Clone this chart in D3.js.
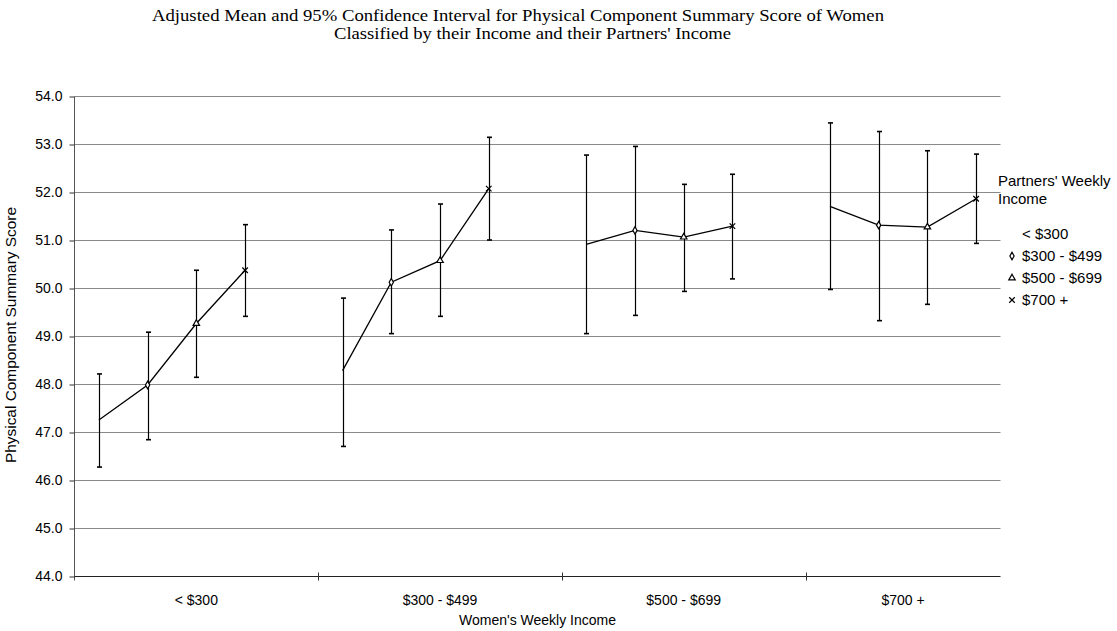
<!DOCTYPE html>
<html>
<head>
<meta charset="utf-8">
<script src="https://cdn.jsdelivr.net/npm/d3@7"></script>
<style>
  html, body { margin: 0; padding: 0; background: #fff; }
  svg { display: block; }
  text { font-family: "Liberation Sans", Arial, sans-serif; fill: #000; }
  text.serif { font-family: "Liberation Serif", "Times New Roman", serif; }
</style>
</head>
<body>
<svg id="chart" width="1117" height="631"></svg>
<script>
// ---------------- data ----------------
const titleLines = [
  "Adjusted Mean and 95% Confidence Interval for Physical Component Summary Score of Women",
  "Classified by their Income and their Partners' Income"
];
const yAxisTitle = "Physical Component Summary Score";
const xAxisTitle = "Women's Weekly Income";
const legendTitle = ["Partners' Weekly", "Income"];

const womenIncome = ["< $300", "$300 - $499", "$500 - $699", "$700 +"];
const partnerIncome = ["< $300", "$300 - $499", "$500 - $699", "$700 +"];
const partnerMarkers = ["none", "diamond", "triangle", "times"];

// adjusted means: one array per women's income group, ordered by partner income
const meanWomenLt300   = [47.26, 47.99, 49.27, 50.38];
const meanWomen300_499 = [48.29, 50.13, 50.58, 52.08];
const meanWomen500_699 = [50.92, 51.21, 51.07, 51.30];
const meanWomen700     = [51.71, 51.32, 51.28, 51.87];

const lowerWomenLt300   = [46.28, 46.85, 48.15, 49.42];
const lowerWomen300_499 = [46.71, 49.06, 49.42, 51.01];
const lowerWomen500_699 = [49.06, 49.44, 49.94, 50.20];
const lowerWomen700     = [49.98, 49.33, 49.67, 50.94];

const upperWomenLt300   = [48.22, 49.09, 50.38, 51.33];
const upperWomen300_499 = [49.80, 51.22, 51.76, 53.15];
const upperWomen500_699 = [52.78, 52.96, 52.17, 52.38];
const upperWomen700     = [53.45, 53.27, 52.87, 52.80];

const yTicks = [44, 45, 46, 47, 48, 49, 50, 51, 52, 53, 54];

const means  = [meanWomenLt300, meanWomen300_499, meanWomen500_699, meanWomen700];
const lowers = [lowerWomenLt300, lowerWomen300_499, lowerWomen500_699, lowerWomen700];
const uppers = [upperWomenLt300, upperWomen300_499, upperWomen500_699, upperWomen700];

// ---------------- layout ----------------
const svg = d3.select("#chart");
const plot = { left: 74.5, right: 1000.5, top: 96.5, bottom: 576.5 };

// category slots: 4 partner points per women group, one empty slot between groups
const slotKeys = [];
womenIncome.forEach((w, g) => {
  partnerIncome.forEach((p, i) => slotKeys.push(g + "|" + i));
  if (g < womenIncome.length - 1) slotKeys.push("gap" + g);
});
const xSlot = d3.scaleBand().domain(slotKeys).range([plot.left, plot.right]).padding(0);
const y = d3.scaleLinear().domain([44, 54]).range([plot.bottom, plot.top]);

const groupStart = g => xSlot(g + "|0");
const groupEnd = g => g < womenIncome.length - 1 ? xSlot("gap" + g) + xSlot.bandwidth() : plot.right;

const rows = [];
womenIncome.forEach((w, g) => partnerIncome.forEach((p, i) => rows.push({
  g, i, key: g + "|" + i, mean: means[g][i], lo: lowers[g][i], hi: uppers[g][i], marker: partnerMarkers[i]
})));
const cx = d => xSlot(d.key) + xSlot.bandwidth() / 2;

// ---------------- gridlines ----------------
svg.append("g").selectAll("line").data(yTicks.filter(t => t > 44)).join("line")
  .attr("x1", plot.left).attr("x2", plot.right)
  .attr("y1", d => y(d)).attr("y2", d => y(d))
  .attr("stroke", "#8a8a8a").attr("stroke-width", 1);

// ---------------- y axis ----------------
const yAxis = svg.append("g").attr("transform", `translate(${plot.left},0)`)
  .call(d3.axisLeft(y).tickValues(yTicks).tickFormat(d3.format(".1f")).tickSize(5).tickSizeOuter(0).tickPadding(7));
yAxis.select(".domain").attr("stroke", "#555").attr("d", `M0,${plot.top}V${plot.bottom + 4}`);
yAxis.selectAll(".tick line").attr("stroke", "#333");
yAxis.selectAll("text").attr("font-size", 14).attr("fill", "#000");

// ---------------- x axis ----------------
svg.append("line").attr("x1", plot.left).attr("x2", plot.right)
  .attr("y1", plot.bottom).attr("y2", plot.bottom).attr("stroke", "#222").attr("stroke-width", 1);
const boundaries = womenIncome.slice(1).map((w, g) => groupStart(g + 1));
svg.append("g").selectAll("line").data(boundaries).join("line")
  .attr("x1", d => Math.round(d) + 0.5).attr("x2", d => Math.round(d) + 0.5)
  .attr("y1", plot.bottom - 4).attr("y2", plot.bottom + 4).attr("stroke", "#333");
svg.append("g").selectAll("text").data(womenIncome).join("text")
  .attr("x", (d, g) => (groupStart(g) + groupEnd(g)) / 2)
  .attr("y", 605).attr("text-anchor", "middle").attr("font-size", 14)
  .text(d => d);

// ---------------- titles ----------------
svg.append("text").attr("class", "serif").attr("x", 152).attr("y", 21).attr("font-size", 16)
  .attr("textLength", 732).attr("lengthAdjust", "spacingAndGlyphs").text(titleLines[0]);
svg.append("text").attr("class", "serif").attr("x", 334).attr("y", 39).attr("font-size", 16)
  .attr("textLength", 397).attr("lengthAdjust", "spacingAndGlyphs").text(titleLines[1]);

svg.append("text").attr("x", (plot.left + plot.right) / 2).attr("y", 625)
  .attr("text-anchor", "middle").attr("font-size", 14).text(xAxisTitle);

svg.append("text").attr("transform", "translate(16,335) rotate(-90)")
  .attr("text-anchor", "middle").attr("font-size", 14)
  .attr("textLength", 256).attr("lengthAdjust", "spacingAndGlyphs").text(yAxisTitle);

// ---------------- series lines ----------------
const line = d3.line().x(cx).y(d => y(d.mean));
svg.append("g").selectAll("path").data(d3.groups(rows, d => d.g)).join("path")
  .attr("d", d => line(d[1])).attr("fill", "none").attr("stroke", "#000").attr("stroke-width", 1.3);

// ---------------- error bars ----------------
const eb = svg.append("g").selectAll("g").data(rows).join("g");
eb.append("line").attr("x1", d => Math.round(cx(d)) + 0.5).attr("x2", d => Math.round(cx(d)) + 0.5)
  .attr("y1", d => y(d.lo)).attr("y2", d => y(d.hi)).attr("stroke", "#000").attr("stroke-width", 1.2);
["lo", "hi"].forEach(k => {
  eb.append("line").attr("x1", d => Math.round(cx(d)) - 2).attr("x2", d => Math.round(cx(d)) + 3)
    .attr("y1", d => y(d[k])).attr("y2", d => y(d[k])).attr("stroke", "#000").attr("stroke-width", 1.6);
});

// ---------------- markers ----------------
const symbolFor = {
  diamond: d3.symbol(d3.symbolDiamond, 16),
  triangle: d3.symbol(d3.symbolTriangle, 18),
  times: d3.symbol(d3.symbolTimes, 22)
};
function drawMarker(sel, type) {
  if (type === "none") return;
  sel.append("path").attr("d", symbolFor[type]())
    .attr("fill", type === "times" ? "none" : "#fff")
    .attr("stroke", "#000").attr("stroke-width", 1.2);
}
svg.append("g").selectAll("g").data(rows.filter(d => d.marker !== "none")).join("g")
  .attr("transform", d => `translate(${cx(d)},${y(d.mean)})`)
  .each(function (d) { drawMarker(d3.select(this), d.marker); });

// ---------------- legend ----------------
const lg = svg.append("g");
lg.selectAll("text.t").data(legendTitle).join("text").attr("class", "t")
  .attr("x", 998).attr("y", (d, i) => 186 + i * 18).attr("font-size", 15).text(d => d);
const items = lg.selectAll("g.item").data(partnerIncome).join("g").attr("class", "item")
  .attr("transform", (d, i) => `translate(1012,${234 + i * 22})`);
items.each(function (d, i) { drawMarker(d3.select(this), partnerMarkers[i]); });
items.append("text").attr("x", 10).attr("y", 5).attr("font-size", 15).text(d => d);
</script>
</body>
</html>
